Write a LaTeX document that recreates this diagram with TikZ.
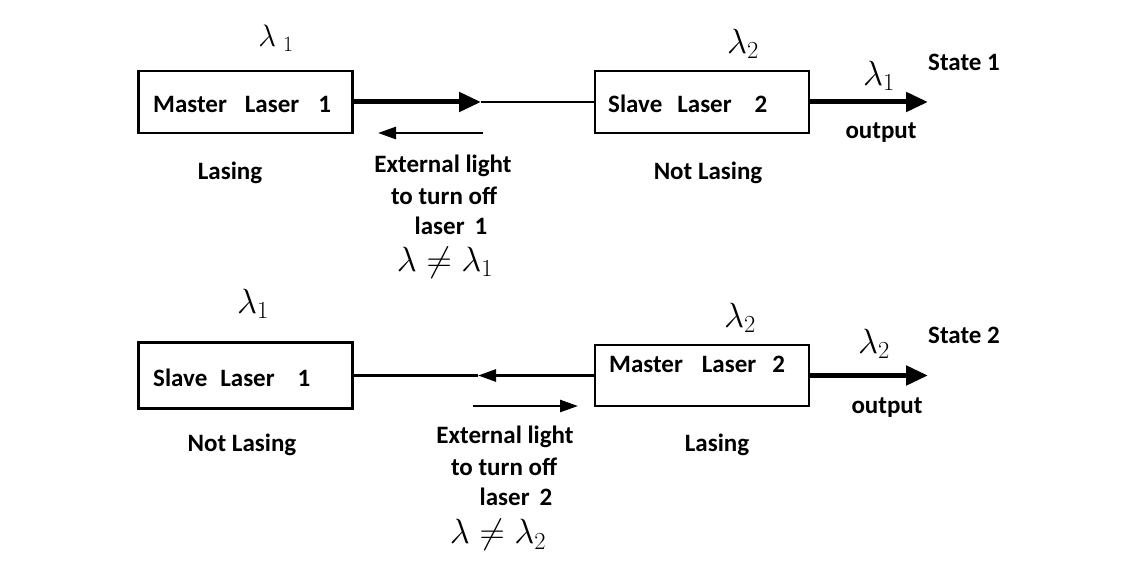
\RequirePackage{fix-cm}
\documentclass[tikz,border=0pt]{standalone}
\usepackage[no-math]{fontspec}
\setmainfont{Carlito}
\usetikzlibrary{arrows.meta}
\begin{document}
\begin{tikzpicture}[x=1pt,y=-1pt,
  txt/.style={font=\fontsize{25}{30}\selectfont\bfseries, inner sep=0pt},
  lam/.style={font=\fontsize{35}{40}\selectfont, inner sep=0pt},
  laser/.style={draw, line width=2.6pt, minimum width=214pt, inner sep=0pt},
  thinline/.style={line width=2.6pt},
  thickline/.style={line width=5pt},
  bigtip/.style={-{Triangle[length=22pt,width=19pt]}},
  smalltip/.style={-{Triangle[length=18pt,width=12pt]}}
  ]
\useasboundingbox (0,0) rectangle (1142,561);

% ---------- State 1 ----------
\node[laser, minimum height=62pt] (ml1) at (245.5,102) {};
\node[laser, minimum height=62pt] (sl2) at (702,102) {};
\node[txt, anchor=west] (ml1t) at (153,104) {Master\hspace{18pt}Laser\hspace{19pt}1};
\node[txt, anchor=west] (sl2t) at (608,104) {Slave\hspace{15pt}Laser\hspace{23pt}2};

\coordinate (a1) at (481,102);
\draw[thickline, bigtip] (ml1.east) -- (a1);
\draw[thinline] (a1) -- (sl2.west);

\coordinate (r1s) at (483,133);
\coordinate (r1e) at (378,133);
\draw[thinline, smalltip] (r1s) -- (r1e);

\coordinate (o1) at (928,102);
\draw[thickline, bigtip] (sl2.east) -- (o1);

\node[lam, font=\fontsize{31}{36}\selectfont] (l11) at (276,38) {$\lambda_{\hspace{7pt}1}$};
\node[lam] (l12) at (743,44) {$\lambda_2$};
\node[lam] (l13) at (879,76) {$\lambda_1$};
\node[txt, anchor=west] (st1) at (928,62) {State 1};
\node[txt] (out1) at (881,133) {output};
\node[txt] (las1) at (230,173) {Lasing};
\node[txt] (nl1) at (708,173) {Not Lasing};
\node[txt] (ext1a) at (443,166) {External light};
\node[txt] (ext1b) at (444,196) {to turn off};
\node[txt] (ext1c) at (451,226) {laser\hspace{10pt}1};
\node[lam] (ne1) at (445,263) {$\lambda\neq\lambda_1$};

% ---------- State 2 ----------
\node[laser, minimum height=66pt] (sl1) at (245.5,375.5) {};
\node[laser, minimum height=61pt] (ml2) at (702,375.5) {};
\node[txt, anchor=west] (sl1t) at (153,378) {Slave\hspace{13pt}Laser\hspace{23pt}1};
\node[txt, anchor=west] (ml2t) at (609,364) {Master\hspace{19pt}Laser\hspace{16pt}2};

\coordinate (b1) at (478,375.5);
\draw[thinline, smalltip] (ml2.west) -- (b1);
\draw[thinline] (b1) -- (sl1.east);

\coordinate (r2s) at (473,406);
\coordinate (r2e) at (578,406);
\draw[thinline, smalltip] (r2s) -- (r2e);

\coordinate (o2) at (928,375.5);
\draw[thickline, bigtip] (ml2.east) -- (o2);

\node[lam] (l21) at (253,304) {$\lambda_1$};
\node[lam] (l22) at (740,318) {$\lambda_2$};
\node[lam] (l23) at (874,344) {$\lambda_2$};
\node[txt, anchor=west] (st2) at (928,335) {State 2};
\node[txt] (out2) at (887,408) {output};
\node[txt] (nl2) at (242,445) {Not Lasing};
\node[txt] (las2) at (717,445) {Lasing};
\node[txt] (ext2a) at (505,437) {External light};
\node[txt] (ext2b) at (504,467) {to turn off};
\node[txt] (ext2c) at (516,497) {laser\hspace{10pt}2};
\node[lam] (ne2) at (498,535) {$\lambda\neq\lambda_2$};
\end{tikzpicture}
\end{document}
